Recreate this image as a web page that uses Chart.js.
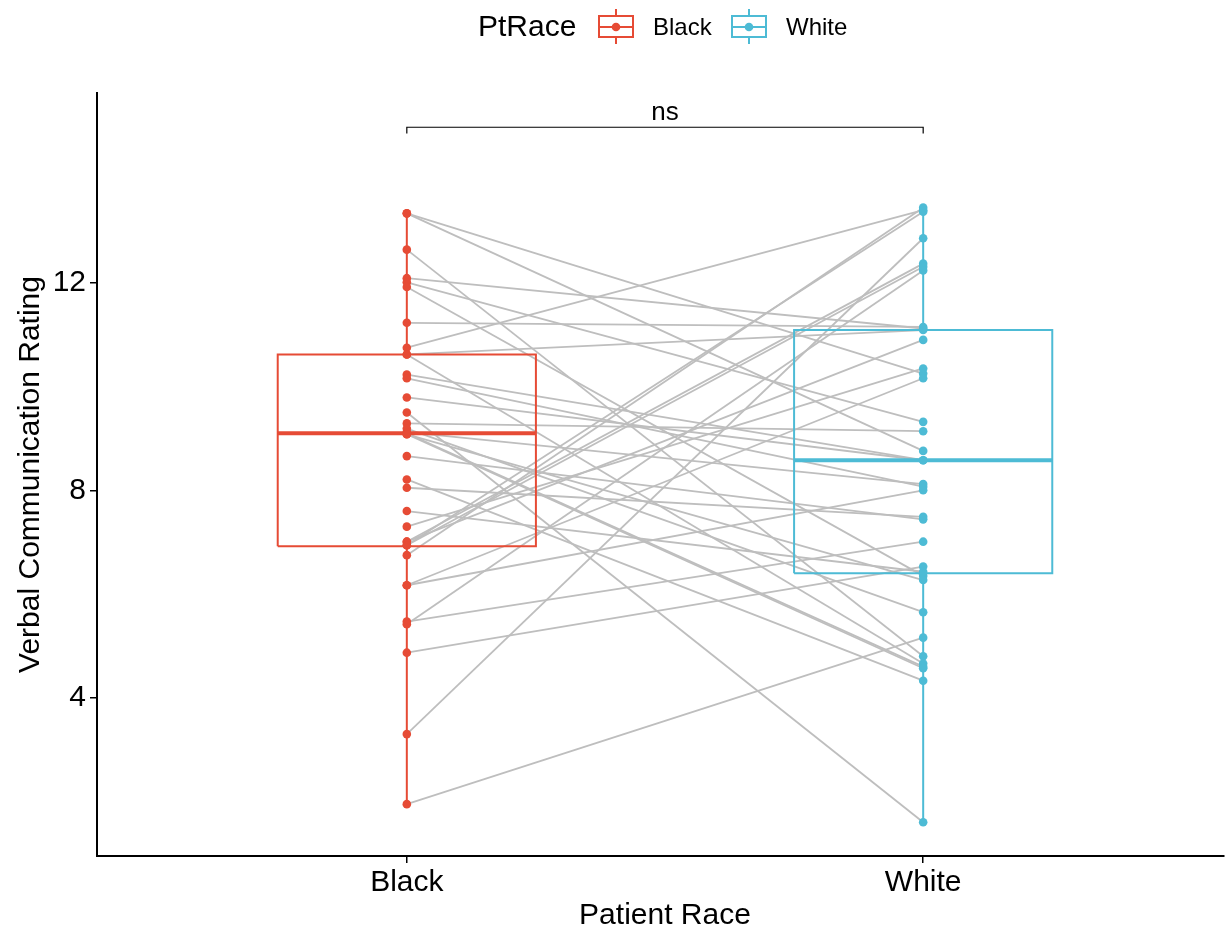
<!DOCTYPE html>
<html lang="en">
<head>
  <meta charset="UTF-8">
  <title>Verbal Communication Rating by Patient Race</title>
  <script src="https://cdn.jsdelivr.net/npm/chart.js"></script>
  <style>
    body {
      margin: 0;
      padding: 0;
      background-color: #ffffff;
    }

    .chart-wrap {
      width: 1228px;
      height: 931px;
      position: relative;
    }
  </style>
</head>
<body>
  <div class="chart-wrap">
    <canvas id="pairedChart"></canvas>
  </div>

  <script>
    // data
    const categories = ['Black', 'White'];
    const yTicks = [4, 8, 12];

    // paired ratings: blackRating[i] is joined to whiteRating[i]
    const blackRating = [13.34, 13.34, 12.64, 12.09, 12.01, 11.92, 11.23, 10.75, 10.62, 10.62,
                         10.23, 10.16, 9.79, 9.50, 9.29, 9.19, 9.12, 9.10, 9.08, 9.08,
                         8.66, 8.21, 8.05, 7.60, 7.30, 7.01, 7.01, 6.94, 6.94, 6.75,
                         6.17, 6.17, 5.47, 5.42, 4.87, 3.30, 1.95];
    const whiteRating = [10.25, 8.76, 4.80, 11.12, 9.32, 6.35, 11.15, 13.40, 11.09, 4.66,
                         8.58, 8.07, 8.58, 1.60, 9.14, 5.65, 8.12, 4.60, 6.27, 4.57,
                         7.44, 4.33, 7.49, 6.43, 10.35, 12.37, 10.90, 12.31, 13.37, 13.45,
                         10.16, 8.00, 7.01, 12.24, 6.53, 12.86, 5.16];

    // box statistics per group (Black, White)
    const boxQ1 = [6.92, 6.40];
    const boxMedian = [9.10, 8.58];
    const boxQ3 = [10.62, 11.09];

    const groupColors = ['#E64B35', '#4DBBD5'];
    const pairColor = '#BEBEBE';
    const fontFamily = '"Liberation Sans", Arial, sans-serif';

    const groupValues = [blackRating, whiteRating];
    const datasets = [];

    // grey lines between paired values
    blackRating.forEach((b, i) => {
      datasets.push({
        type: 'line',
        data: [{ x: 1, y: b }, { x: 2, y: whiteRating[i] }],
        borderColor: pairColor,
        borderWidth: 1.8,
        pointRadius: 0,
        order: 4
      });
    });

    // boxes, medians and whiskers
    categories.forEach((cat, g) => {
      const x = g + 1;
      const lo = Math.min(...groupValues[g]);
      const hi = Math.max(...groupValues[g]);
      const lineStyle = { type: 'line', borderColor: groupColors[g], pointRadius: 0, order: 2 };
      datasets.push(Object.assign({}, lineStyle, {
        data: [{ x: x - 0.25, y: boxQ1[g] }, { x: x + 0.25, y: boxQ1[g] }, { x: x + 0.25, y: boxQ3[g] },
               { x: x - 0.25, y: boxQ3[g] }, { x: x - 0.25, y: boxQ1[g] }],
        borderWidth: 2
      }));
      datasets.push(Object.assign({}, lineStyle, {
        data: [{ x: x - 0.25, y: boxMedian[g] }, { x: x + 0.25, y: boxMedian[g] }],
        borderWidth: 4
      }));
      datasets.push(Object.assign({}, lineStyle, {
        data: [{ x: x, y: boxQ3[g] }, { x: x, y: hi }],
        borderWidth: 2
      }));
      datasets.push(Object.assign({}, lineStyle, {
        data: [{ x: x, y: lo }, { x: x, y: boxQ1[g] }],
        borderWidth: 2
      }));
      // points
      datasets.push({
        type: 'scatter',
        data: groupValues[g].map(v => ({ x: x, y: v })),
        backgroundColor: groupColors[g],
        borderColor: groupColors[g],
        pointRadius: 4.3,
        borderWidth: 0,
        order: 1
      });
    });

    // significance bracket
    datasets.push({
      type: 'line',
      data: [{ x: 1, y: 14.88 }, { x: 1, y: 15.0 }, { x: 2, y: 15.0 }, { x: 2, y: 14.88 }],
      borderColor: '#000',
      borderWidth: 1.2,
      pointRadius: 0,
      order: 0
    });

    // titles, legend and "ns" label
    const annotations = {
      id: 'annotations',
      afterDraw(chart) {
        const ctx = chart.ctx;
        const xs = chart.scales.x;
        const ys = chart.scales.y;
        ctx.save();
        ctx.fillStyle = '#000';

        ctx.font = '26px ' + fontFamily;
        ctx.textAlign = 'center';
        ctx.textBaseline = 'alphabetic';
        ctx.fillText('ns', xs.getPixelForValue(1.5), ys.getPixelForValue(15.0) - 7);

        ctx.font = '30px ' + fontFamily;
        ctx.textBaseline = 'middle';
        ctx.fillText('Patient Race', xs.getPixelForValue(1.5), 916);
        ctx.save();
        ctx.translate(31, (chart.chartArea.top + chart.chartArea.bottom) / 2);
        ctx.rotate(-Math.PI / 2);
        ctx.fillText('Verbal Communication Rating', 0, 0);
        ctx.restore();

        // legend
        ctx.textAlign = 'left';
        ctx.font = '30px ' + fontFamily;
        ctx.fillText('PtRace', 478, 28);
        const keyX = [599, 732];
        const labelX = [653, 786];
        ctx.font = '24px ' + fontFamily;
        categories.forEach((cat, g) => {
          const kx = keyX[g];
          const c = groupColors[g];
          ctx.strokeStyle = c;
          ctx.lineWidth = 2;
          ctx.strokeRect(kx, 16, 34, 21);
          ctx.beginPath();
          ctx.moveTo(kx, 27); ctx.lineTo(kx + 34, 27);
          ctx.moveTo(kx + 17, 9); ctx.lineTo(kx + 17, 16);
          ctx.moveTo(kx + 17, 37); ctx.lineTo(kx + 17, 44);
          ctx.stroke();
          ctx.fillStyle = c;
          ctx.beginPath();
          ctx.arc(kx + 17, 27, 4.3, 0, Math.PI * 2);
          ctx.fill();
          ctx.fillStyle = '#000';
          ctx.fillText(cat, labelX[g], 28);
        });
        ctx.restore();
      }
    };

    const ctx = document.getElementById('pairedChart').getContext('2d');
    new Chart(ctx, {
      data: { datasets: datasets },
      options: {
        responsive: true,
        maintainAspectRatio: false,
        animation: false,
        layout: { padding: { top: 93, left: 0, right: 0, bottom: 0 } },
        plugins: {
          legend: { display: false },
          tooltip: { enabled: false }
        },
        scales: {
          x: {
            type: 'linear',
            min: 0.4,
            max: 2.582,
            afterBuildTicks: scale => { scale.ticks = [{ value: 1 }, { value: 2 }]; },
            afterFit: scale => { scale.height = 75; },
            ticks: {
              callback: v => categories[v - 1],
              color: '#000',
              font: { family: fontFamily, size: 30 },
              padding: 2,
              maxRotation: 0
            },
            grid: { display: true, drawOnChartArea: false, drawTicks: true, tickLength: 7, color: '#000', lineWidth: 1.5 },
            border: { display: true, color: '#000', width: 2 }
          },
          y: {
            type: 'linear',
            min: 0.95,
            max: 15.66,
            afterBuildTicks: scale => { scale.ticks = yTicks.map(v => ({ value: v })); },
            afterFit: scale => { scale.width = 97; },
            ticks: {
              color: '#000',
              font: { family: fontFamily, size: 30 },
              padding: 4
            },
            grid: { display: true, drawOnChartArea: false, drawTicks: true, tickLength: 7, color: '#000', lineWidth: 1.5 },
            border: { display: true, color: '#000', width: 2 }
          }
        }
      },
      plugins: [annotations]
    });
  </script>
</body>
</html>
